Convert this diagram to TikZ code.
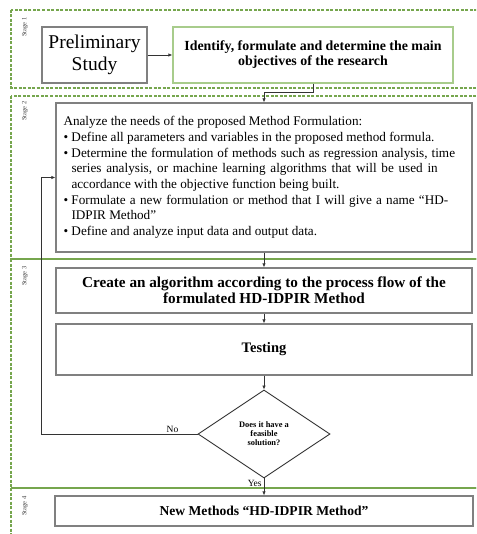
\documentclass[tikz,border=0pt]{standalone}
\usepackage{fontspec}
\setmainfont{Liberation Serif}
\usetikzlibrary{shapes.geometric,arrows.meta}

\definecolor{stagegreen}{RGB}{118,166,78}
\definecolor{lightgreen}{RGB}{168,204,140}
\definecolor{boxgray}{RGB}{128,128,128}

% 箇条書きの一行(ぶら下げインデント)
\newcommand{\bulletitem}[1]{\par\hangindent=10pt\hangafter=1\hspace*{2pt}\makebox[8pt][l]{\textbullet}#1}

\begin{document}
\begin{tikzpicture}[x=1pt,y=-1pt,
    stagebox/.style={draw=stagegreen, line width=1.1pt, dash pattern=on 3pt off 1.5pt},
    stagelabel/.style={rotate=90, text=black!75, font=\fontsize{6.5}{7}\selectfont},
    flowbox/.style={draw=boxgray, line width=1.2pt, rectangle, inner sep=0pt, align=center},
    flowarrow/.style={-{Latex[length=4pt,width=3.5pt]}, line width=0.7pt, draw=black!80},
    flowlabel/.style={font=\fontsize{9.5}{10}\selectfont, inner sep=1pt}]

    % 図の大きさを固定
    \useasboundingbox (0,0) rectangle (476,534);
    \clip (0,0) rectangle (476,534);

    % ステージの枠(破線、右端ははみ出す)
    \draw[stagebox] (11,10) rectangle (490,88);
    \draw[stagebox] (11,96) rectangle (490,259);
    \draw[stagebox] (11,259) rectangle (490,488);
    \draw[stagebox] (11,488) rectangle (490,550);
    % ステージ2と3の境界は実線
    \draw[stagegreen, line width=1.1pt] (11,259) -- (490,259);

    % ステージ名(縦書き)
    \foreach \num/\y in {1/27, 2/111, 3/276, 4/506}
        \node[stagelabel] (stage\num) at (25,\y) {Stage \num};

    % ステージ1の箱
    \node[flowbox, minimum width=105pt, minimum height=56pt,
          font=\fontsize{19.5}{21.5}\selectfont] (prelim) at (94.5,55) {Preliminary\\Study};
    \node[flowbox, draw=lightgreen, minimum width=280pt, minimum height=56pt,
          font=\bfseries\fontsize{13.9}{15}\selectfont] (objective) at (313,55)
          {Identify, formulate and determine the main\\objectives of the research};

    % ステージ2の箱(箇条書き)
    \node[flowbox, align=left, text width=405pt, inner xsep=5.5pt, minimum height=149pt,
          font=\fontsize{13.2}{15.7}\selectfont] (analyze) at (264,177.5)
          {\setlength{\parindent}{0pt}\hyphenpenalty=10000
           \spaceskip=0.25em plus 0.1em minus 0.07em
           \hspace*{2pt}Analyze the needs of the proposed Method Formulation:
           \bulletitem{Define all parameters and variables in the proposed method formula.}
           \bulletitem{Determine the formulation of methods such as regression analysis, time\break series analysis, or machine learning algorithms that will be used in\break accordance with the objective function being built.}
           \bulletitem{Formulate a new formulation or method that I will give a name “HD-\break IDPIR Method”}
           \bulletitem{Define and analyze input data and output data.}};

    % ステージ3の箱と判断
    \node[flowbox, minimum width=416pt, minimum height=45pt,
          font=\bfseries\fontsize{15.2}{16}\selectfont] (algorithm) at (264,290.5)
          {Create an algorithm according to the process flow of the\\formulated HD-IDPIR Method};
    \node[flowbox, minimum width=416pt, minimum height=51pt,
          font=\bfseries\fontsize{14.5}{15}\selectfont] (testing) at (264,349.5) {Testing};
    \node[diamond, draw=black!80, line width=0.9pt, minimum width=132pt, minimum height=88pt,
          inner sep=0pt, align=center, font=\bfseries\fontsize{8.4}{9}\selectfont] (feasible) at (264,434)
          {Does it have a\\feasible\\solution?};

    % ステージ4の箱
    \node[flowbox, minimum width=418pt, minimum height=30pt,
          font=\bfseries\fontsize{13.6}{15}\selectfont] (newmethod) at (264,511)
          {New Methods “HD-IDPIR Method”};

    % 矢印
    \draw[flowarrow] (prelim) -- (objective);
    \draw[flowarrow] (objective.south) -- ++(0,9) -| (analyze.north);
    \draw[flowarrow] (analyze) -- (algorithm);
    \draw[flowarrow] (algorithm) -- (testing);
    \draw[flowarrow] (testing) -- (feasible);
    \draw[flowarrow] (feasible) -- node[flowlabel, pos=0.3, left=1pt] {Yes} (newmethod);

    % Noのときはステージ2へ戻る
    \coordinate (loopcorner) at (41,434);
    \draw[flowarrow] (feasible.west) -- node[flowlabel, pos=0.16, above] {No} (loopcorner) |- (analyze.west);
\end{tikzpicture}
\end{document}
